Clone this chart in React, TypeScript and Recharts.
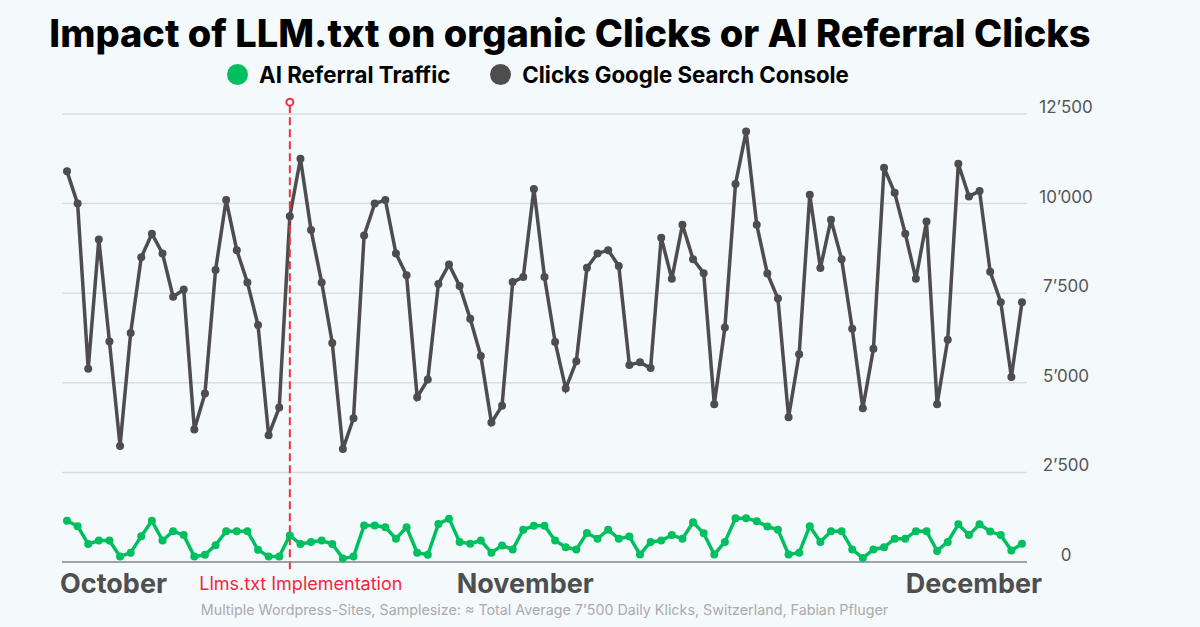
import React from 'react';
import { LineChart, Line, XAxis, YAxis, CartesianGrid, ReferenceLine, ReferenceDot, Legend } from 'recharts';

const FONT = 'Inter, "Noto Sans", "DejaVu Sans", sans-serif';
const BG = '#f4f9fc';
const GREEN = '#00bf5f';
const GRAY = '#4d4d4d';
const RED = '#f0323c';

const octDays = Array.from({ length: 31 }, (_, i) => `Oct ${i + 1}`);
const novDays = Array.from({ length: 30 }, (_, i) => `Nov ${i + 1}`);
const decDays = Array.from({ length: 30 }, (_, i) => `Dec ${i + 1}`);
const days: string[] = [...octDays, ...novDays, ...decDays];

const clicksGSC = [
  10900, 10000, 5390, 9000, 6150, 3240, 6390, 8500, 9160, 8610,
  7400, 7600, 3700, 4700, 8150, 10100, 8700, 7800, 6610, 3540,
  4310, 9650, 11250, 9260, 7800, 6110, 3150, 4010, 9110, 10000,
  10100, 8610, 8000, 4600, 5090, 7760, 8300, 7700, 6790, 5750,
  3890, 4360, 7810, 7950, 10410, 7950, 6140, 4840, 5600, 8210,
  8610, 8700, 8260, 5500, 5570, 5410, 9050, 7900, 9410, 8450,
  8060, 4400, 6540, 10550, 12010, 9410, 8050, 7350, 4040, 5800,
  10250, 8200, 9550, 8450, 6510, 4290, 5950, 11000, 10300, 9160,
  7900, 9500, 4400, 6200, 11110, 10200, 10350, 8100, 7250, 5160,
  7250,
];

const aiReferral = [
  1150, 1000, 500, 600, 600, 150, 260, 720, 1150, 600,
  860, 750, 150, 200, 470, 860, 860, 860, 340, 150,
  150, 740, 500, 560, 600, 500, 100, 150, 1020, 1020,
  970, 650, 970, 260, 200, 1060, 1210, 560, 510, 600,
  260, 460, 350, 900, 1010, 1010, 600, 410, 350, 810,
  650, 900, 650, 710, 210, 560, 600, 750, 650, 1110,
  800, 210, 560, 1220, 1220, 1140, 990, 900, 210, 260,
  1000, 560, 860, 860, 350, 110, 350, 410, 650, 650,
  860, 860, 310, 560, 1050, 750, 1050, 850, 750, 320,
  510,
];

const yTicks = [0, 2500, 5000, 7500, 10000, 12500];
const xTickDays = ['Oct 1', 'Oct 22', 'Nov 13', 'Dec 30'];
const xTickLabels = ['October', 'Llms.txt Implementation', 'November', 'December'];
const implementationDay = 'Oct 22';
const markerTop = 12830;
const markerBottom = -200;

const data = days.map((d, i) => ({ day: d, ai: aiReferral[i], clicks: clicksGSC[i] }));

const fmt = (v: number) => String(v).replace(/\B(?=(\d{3})+(?!\d))/g, '\u2019');

const xStyles = [
  { anchor: 'start', dx: -7, dy: 23, size: 27, weight: 700, fill: '#4f4f4f' },
  { anchor: 'middle', dx: 11, dy: 20, size: 18, weight: 400, fill: '#f0283c' },
  { anchor: 'middle', dx: 2, dy: 23, size: 27, weight: 700, fill: '#4f4f4f' },
  { anchor: 'end', dx: 20, dy: 23, size: 27, weight: 700, fill: '#4f4f4f' },
];

const XTick = (props: any) => {
  const { x, y, payload } = props;
  const idx = xTickDays.indexOf(payload.value);
  if (idx < 0) return null;
  const s = xStyles[idx];
  return (
    <text x={x + s.dx} y={y + s.dy} textAnchor={s.anchor as any} fontFamily={FONT} fontSize={s.size} fontWeight={s.weight} fill={s.fill}>
      {xTickLabels[idx]}
    </text>
  );
};

const YTick = (props: any) => {
  const { x, y, payload } = props;
  return (
    <text x={x + 31} y={y - 7} textAnchor="middle" dominantBaseline="central" fontFamily={FONT} fontSize={17} fill="#555">
      {fmt(payload.value)}
    </text>
  );
};

const renderLegend = (props: any) => {
  const payload = props.payload || [];
  return (
    <div style={{ display: 'flex', alignItems: 'center', fontFamily: FONT, fontWeight: 700, fontSize: 22.3, color: '#000', whiteSpace: 'nowrap' }}>
      {payload.map((p: any, i: number) => (
        <div key={i} style={{ display: 'flex', alignItems: 'center', marginRight: 40 }}>
          <span style={{ display: 'inline-block', width: 21, height: 21, borderRadius: 11, background: p.color, marginRight: 11 }} />
          <span>{p.value}</span>
        </div>
      ))}
    </div>
  );
};

export default function App() {
  return (
    <div style={{ position: 'fixed', left: 0, top: 0, width: 1200, height: 627, background: BG, overflow: 'hidden' }}>
      <div style={{ position: 'absolute', left: 0, top: 10, width: 1140, textAlign: 'center', fontFamily: FONT, fontWeight: 800, fontSize: 38, color: '#000', whiteSpace: 'nowrap' }}>
        Impact of LLM.txt on organic Clicks or AI Referral Clicks
      </div>
      <div style={{ position: 'absolute', left: 0, top: 601, width: 1089, textAlign: 'center', fontFamily: FONT, fontSize: 14.3, color: '#ababab', whiteSpace: 'nowrap' }}>
        Multiple Wordpress-Sites, Samplesize: ≈ Total Average 7’500 Daily Klicks, Switzerland, Fabian Pfluger
      </div>
      <LineChart width={1200} height={627} data={data} margin={{ top: 114, right: 113, bottom: 35, left: 62 }} style={{ position: 'absolute', left: 0, top: 0 }}>
        <CartesianGrid horizontal vertical={false} stroke="#d8dde0" strokeWidth={1.5} />
        <XAxis dataKey="day" ticks={xTickDays} interval={0} tick={<XTick />} tickLine={false} axisLine={{ stroke: '#8c8c8c', strokeWidth: 1.5 }} padding={{ left: 5, right: 5 }} height={30} />
        <YAxis orientation="right" domain={[0, 12500]} ticks={yTicks} tick={<YTick />} tickLine={false} axisLine={false} width={60} />
        <Legend layout="horizontal" verticalAlign="middle" align="center" content={renderLegend} wrapperStyle={{ position: 'absolute', top: 61, left: 227, width: 900, height: 26 }} />
        <Line name="AI Referral Traffic" dataKey="ai" stroke={GREEN} strokeWidth={3.5} dot={{ r: 4, fill: GREEN, stroke: GREEN, strokeWidth: 0 }} activeDot={false} isAnimationActive={false} />
        <Line name="Clicks Google Search Console" dataKey="clicks" stroke={GRAY} strokeWidth={3.5} dot={{ r: 4, fill: GRAY, stroke: GRAY, strokeWidth: 0 }} activeDot={false} isAnimationActive={false} />
        <ReferenceLine segment={[{ x: implementationDay, y: markerBottom }, { x: implementationDay, y: markerTop }]} ifOverflow="visible" stroke={RED} strokeWidth={2} strokeDasharray="8 4" />
        <ReferenceDot x={implementationDay} y={markerTop} r={3.5} ifOverflow="visible" fill={BG} stroke={RED} strokeWidth={2} />
      </LineChart>
    </div>
  );
}
